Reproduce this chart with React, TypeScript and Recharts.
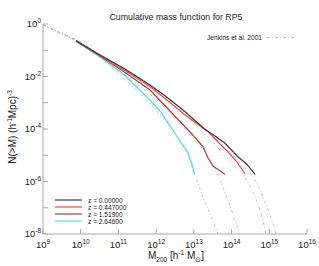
import React from "react";
import { LineChart, Line, XAxis, YAxis } from "recharts";

// values are log10(M) [h^-1 Msun] and log10(N(>M)) [(h^-1 Mpc)^-3]
const massTicks = [9, 10, 11, 12, 13, 14, 15, 16];
const countTicks = [-8, -7, -6, -5, -4, -3, -2, -1, 0];

const zLabels = ["z = 0.00000", "z = 0.447000", "z = 1.51900", "z = 2.64600"];
const zColors = ["#3c3c3c", "#ff4545", "#b23c3c", "#45e6f0"];

const simZ0 = [
  [9.875, -0.636], [10.512, -1.177], [11.174, -1.714], [11.837, -2.324], [12.315, -2.819],
  [12.766, -3.341], [13.296, -4.019], [13.561, -4.267], [13.826, -4.545], [14.171, -5.055],
  [14.41, -5.352], [14.622, -5.726],
];
const simZ1 = [
  [9.875, -0.636], [10.512, -1.189], [11.174, -1.771], [11.837, -2.381], [12.368, -2.99],
  [12.766, -3.467], [13.163, -3.886], [13.376, -4.095], [13.561, -4.381], [13.906, -4.876],
  [14.145, -5.257], [14.357, -5.714],
];
const simZ2 = [
  [9.875, -0.648], [10.512, -1.219], [11.174, -1.848], [11.837, -2.514], [12.368, -3.314],
  [12.898, -4.114], [13.243, -4.674], [13.376, -5.105], [13.508, -5.41], [13.641, -5.543],
  [13.826, -5.726],
];
const simZ3 = [
  [9.875, -0.667], [10.512, -1.257], [11.174, -1.962], [11.837, -2.895], [12.103, -3.314],
  [12.447, -4.038], [12.633, -4.484], [12.766, -4.735], [12.845, -4.895], [12.911, -5.181],
  [12.951, -5.333], [13.012, -5.726],
];

const jenZ0 = [
  [9, -0.03], [9.5, -0.36], [9.875, -0.6], [10.5, -1.16], [11, -1.58], [11.5, -2.02],
  [12, -2.5], [12.5, -3.02], [13, -3.62], [13.5, -4.25], [14, -4.95], [14.3, -5.4],
  [14.62, -5.94], [14.83, -6.58], [15.0, -7.2], [15.18, -8],
];
const jenZ1 = [
  [9, -0.03], [9.5, -0.36], [9.875, -0.6], [10.5, -1.18], [11, -1.64], [11.5, -2.1],
  [12, -2.6], [12.5, -3.15], [13, -3.78], [13.5, -4.5], [14, -5.3], [14.4, -5.94],
  [14.62, -6.58], [14.78, -7.2], [14.91, -8],
];
const jenZ2 = [
  [9, -0.03], [9.5, -0.37], [9.875, -0.62], [10.5, -1.23], [11, -1.76], [11.5, -2.3],
  [12, -2.88], [12.5, -3.6], [13, -4.4], [13.4, -5.1], [13.69, -5.94], [13.87, -6.58],
  [14.05, -7.3], [14.22, -8],
];
const jenZ3 = [
  [9, -0.04], [9.5, -0.38], [9.875, -0.65], [10.5, -1.3], [11, -1.9], [11.5, -2.55],
  [12, -3.3], [12.5, -4.15], [12.8, -4.85], [13.076, -5.94], [13.24, -6.58], [13.45, -7.3],
  [13.64, -8],
];

const sims = [simZ3, simZ2, simZ1, simZ0];
const simColors = [zColors[3], zColors[2], zColors[1], zColors[0]];
const jenkins = [jenZ0, jenZ1, jenZ2, jenZ3];

const toPts = (arr: number[][]) => arr.map(([m, n]) => ({ m, n }));

const FONT = "'Liberation Sans', Arial, sans-serif";
const FRAME = "#a8a8a8";

const BottomTick = (props: any) => {
  const { x, y, payload } = props;
  return (
    <g>
      <line x1={x} x2={x} y1={y} y2={y - 5} stroke={FRAME} />
      <text x={x} y={y + 14} textAnchor="middle" fontSize={9.5} fill="#222" fontFamily={FONT}>
        10<tspan dy={-4} fontSize={6.5}>{payload.value}</tspan>
      </text>
    </g>
  );
};
const TopTick = (props: any) => {
  const { x, y } = props;
  return <line x1={x} x2={x} y1={y} y2={y + 5} stroke={FRAME} />;
};
const LeftTick = (props: any) => {
  const { x, y, payload } = props;
  const v = payload.value;
  return (
    <g>
      <line x1={x} x2={x + 5} y1={y} y2={y} stroke={FRAME} />
      {v % 2 === 0 && (
        <text x={x - 2} y={y + 3} textAnchor="end" fontSize={9.5} fill="#222" fontFamily={FONT}>
          10<tspan dy={-4} fontSize={6.5}>{v}</tspan>
        </text>
      )}
    </g>
  );
};
const RightTick = (props: any) => {
  const { x, y } = props;
  return <line x1={x} x2={x - 5} y1={y} y2={y} stroke={FRAME} />;
};

export default function App() {
  return (
    <div style={{ position: "fixed", left: 0, top: 0, width: 319, height: 266, background: "#fff" }}>
      <LineChart width={319} height={266} margin={{ top: 24, right: 12, bottom: 0, left: 0 }}>
        <XAxis xAxisId="b" type="number" dataKey="m" domain={[9, 16]} ticks={massTicks} interval={0}
          orientation="bottom" height={32} tickSize={0} tickMargin={0} tickLine={false}
          axisLine={{ stroke: FRAME }} tick={<BottomTick />} allowDataOverflow />
        <XAxis xAxisId="t" type="number" dataKey="m" domain={[9, 16]} ticks={massTicks} interval={0}
          orientation="top" height={0} tickSize={0} tickMargin={0} tickLine={false}
          axisLine={{ stroke: FRAME }} tick={<TopTick />} allowDataOverflow />
        <YAxis yAxisId="l" type="number" domain={[-8, 0]} ticks={countTicks} interval={0}
          orientation="left" width={43} tickSize={0} tickMargin={0} tickLine={false}
          axisLine={{ stroke: FRAME }} tick={<LeftTick />} allowDataOverflow />
        <YAxis yAxisId="r" type="number" domain={[-8, 0]} ticks={countTicks} interval={0}
          orientation="right" width={0} tickSize={0} tickMargin={0} tickLine={false}
          axisLine={{ stroke: FRAME }} tick={<RightTick />} allowDataOverflow />
        {jenkins.map((s, i) => (
          <Line key={"j" + i} xAxisId="b" yAxisId="l" data={toPts(s)} dataKey="n" type="monotone"
            stroke="#b4b4b4" strokeWidth={0.8} strokeDasharray="3 2 1 2" dot={false}
            isAnimationActive={false} />
        ))}
        {sims.map((s, i) => (
          <Line key={"s" + i} xAxisId="b" yAxisId="l" data={toPts(s)} dataKey="n" type="linear"
            stroke={simColors[i]} strokeWidth={1.2} dot={false} isAnimationActive={false} />
        ))}
      </LineChart>
      <svg width={319} height={266} style={{ position: "absolute", left: 0, top: 0, pointerEvents: "none" }}
        fontFamily={FONT}>
        <text x={176} y={20} textAnchor="middle" fontSize={8.8} fill="#222">
          Cumulative mass function for RP5
        </text>
        <text x={262} y={40} textAnchor="end" fontSize={6.6} fill="#222">Jenkins et al. 2001</text>
        <line x1={267} x2={295} y1={37.5} y2={37.5} stroke="#b4b4b4" strokeWidth={0.8} strokeDasharray="3 2 1 2" />
        {zLabels.map((lab, i) => (
          <g key={lab}>
            <line x1={55} x2={82} y1={200 + i * 7} y2={200 + i * 7} stroke={zColors[i]} strokeWidth={1.2} />
            <text x={88} y={202.5 + i * 7} fontSize={6.6} fill="#222">{lab}</text>
          </g>
        ))}
        <text x={176} y={259} textAnchor="middle" fontSize={10} fill="#222">
          M<tspan dy={3} fontSize={6.5}>200</tspan>
          <tspan dy={-3}> [h</tspan>
          <tspan dy={-4} fontSize={6.5}>-1</tspan>
          <tspan dy={4}> M</tspan>
          <tspan dy={3} fontSize={6.5}>⊙</tspan>
          <tspan dy={-3}>]</tspan>
        </text>
        <text transform="translate(16,127) rotate(-90)" textAnchor="middle" fontSize={10} fill="#222">
          N(&gt;M) (h<tspan dy={-4} fontSize={6.5}>-1</tspan>
          <tspan dy={4}>Mpc)</tspan>
          <tspan dy={-4} fontSize={6.5}>-3</tspan>
        </text>
      </svg>
    </div>
  );
}
